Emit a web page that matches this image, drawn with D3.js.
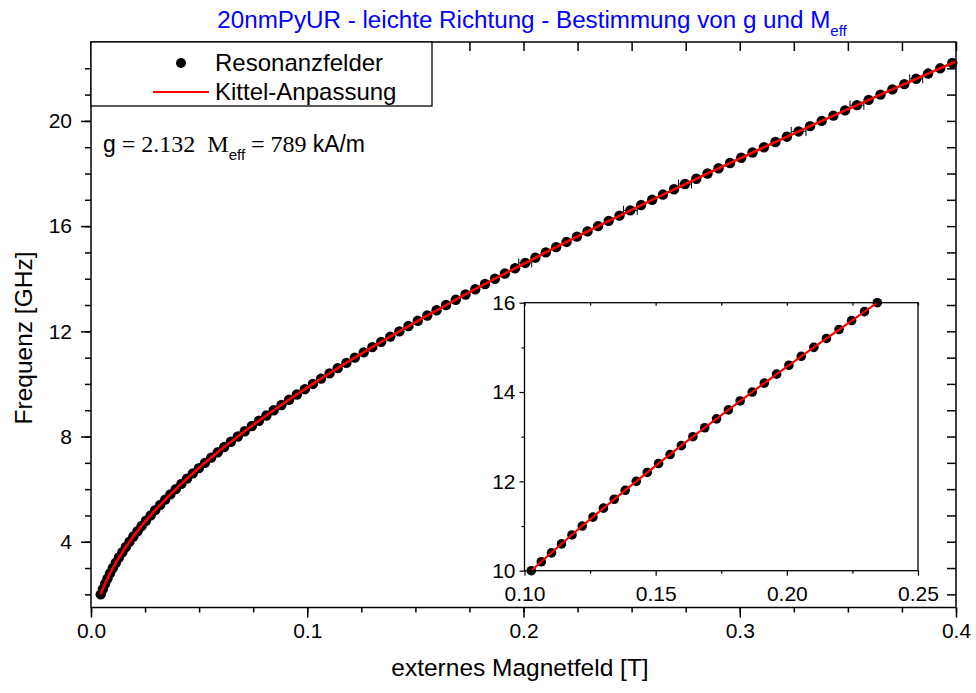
<!DOCTYPE html>
<html>
<head>
<meta charset="utf-8">
<script src="https://d3js.org/d3.v7.min.js"></script>
<style>
    body{ margin:0; background:#fff; }
    svg{ display:block; }
    text{ font-family:"Liberation Sans", Arial, sans-serif; fill:#000; }
    .serif{ font-family:"Liberation Serif", "Times New Roman", serif; }
    .axis path, .axis line{ stroke:#000; }
</style>
</head>
<body>
<div id="chart"></div>
<script>
// resonance fields (T) for each microwave frequency (GHz)
var freqGHz = [2.0,2.2,2.4,2.6,2.8,3.0,3.2,3.4,3.6,3.8,4.0,4.2,4.4,4.6,4.8,5.0,5.2,5.4,5.6,5.8,
    6.0,6.2,6.4,6.6,6.8,7.0,7.2,7.4,7.6,7.8,8.0,8.2,8.4,8.6,8.8,9.0,9.2,9.4,9.6,9.8,
    10.0,10.2,10.4,10.6,10.8,11.0,11.2,11.4,11.6,11.8,12.0,12.2,12.4,12.6,12.8,13.0,13.2,13.4,13.6,13.8,
    14.0,14.2,14.4,14.6,14.8,15.0,15.2,15.4,15.6,15.8,16.0,16.2,16.4,16.6,16.8,17.0,17.2,17.4,17.6,17.8,
    18.0,18.2,18.4,18.6,18.8,19.0,19.2,19.4,19.6,19.8,20.0,20.2,20.4,20.6,20.8,21.0,21.2,21.4,21.6,21.8,
    22.0,22.2];
var fieldT = [0.0045,0.0055,0.0065,0.0076,0.0088,0.0101,0.0115,0.0129,0.0145,0.0161,
    0.0178,0.0196,0.0215,0.0234,0.0254,0.0276,0.0297,0.0320,0.0343,0.0367,
    0.0392,0.0418,0.0444,0.0471,0.0499,0.0527,0.0556,0.0586,0.0616,0.0647,
    0.0679,0.0711,0.0744,0.0777,0.0811,0.0845,0.0881,0.0916,0.0952,0.0989,
    0.1026,0.1064,0.1103,0.1141,0.1181,0.1220,0.1261,0.1301,0.1342,0.1384,
    0.1426,0.1468,0.1511,0.1555,0.1598,0.1642,0.1687,0.1732,0.1777,0.1822,
    0.1868,0.1914,0.1961,0.2008,0.2055,0.2103,0.2151,0.2199,0.2247,0.2296,
    0.2345,0.2394,0.2444,0.2494,0.2544,0.2595,0.2645,0.2696,0.2747,0.2799,
    0.2851,0.2902,0.2955,0.3007,0.3059,0.3112,0.3165,0.3218,0.3272,0.3325,
    0.3379,0.3433,0.3487,0.3542,0.3596,0.3651,0.3706,0.3761,0.3816,0.3871,
    0.3927,0.3983];

// the few points whose field error bars stick out of the marker
var errFreq = [14.6, 16.6, 17.6, 19.6, 20.6, 21.6];
var errField = [0.0030, 0.0032, 0.0030, 0.0034, 0.0032, 0.0030];

// Kittel fit curve
var fitField = [0.0045,0.0065,0.0088,0.0101,0.0145,0.0178,0.0254,0.0343,0.0392,0.0527,0.0679,0.0845,
    0.1026,0.1220,0.1426,0.1642,0.1868,0.2103,0.2345,0.2595,0.2851,0.3112,0.3379,0.3651,0.3927,0.4000];
var fitFreq = [2.0,2.4,2.8,3.0,3.6,4.0,4.8,5.6,6.0,7.0,8.0,9.0,
    10.0,11.0,12.0,13.0,14.0,15.0,16.0,17.0,18.0,19.0,20.0,21.0,22.0,22.26];

var xTicks = [0.0,0.1,0.2,0.3,0.4];
var yTicks = [4,8,12,16,20];
var insetXTicks = [0.10,0.15,0.20,0.25];
var insetYTicks = [10,12,14,16];

var W = 976, H = 693;
var svg = d3.select("#chart").append("svg").attr("width", W).attr("height", H);

var points = freqGHz.map(function(f, i){ return {x: fieldT[i], y: f}; });
var fit = fitFreq.map(function(f, i){ return {x: fitField[i], y: f}; });
var errs = errFreq.map(function(f, i){
    return {x: fieldT[freqGHz.indexOf(f)], y: f, e: errField[i]};
});

// ---- main plot
var mLeft = 91, mRight = 956, mTop = 42, mBottom = 607.5;
var x = d3.scaleLinear().domain([0, 0.4]).range([mLeft, mRight]);
var y = d3.scaleLinear().domain([1.5, 23]).range([mBottom, mTop]);

var xMinor = d3.range(0, 0.4001, 0.025);
var yMinor = d3.range(2, 23, 1);

svg.append("g").attr("class", "axis").attr("transform", "translate(0," + mBottom + ")")
    .call(d3.axisBottom(x).tickValues(xMinor).tickSize(5).tickFormat(""))
    .call(function(g){ g.select(".domain").remove(); });
svg.append("g").attr("class", "axis").attr("transform", "translate(0," + mBottom + ")")
    .call(d3.axisBottom(x).tickValues(xTicks).tickSize(10).tickPadding(6).tickFormat(d3.format(".1f")))
    .call(function(g){ g.select(".domain").remove(); g.selectAll("text").style("font-size", "21px"); });
svg.append("g").attr("class", "axis").attr("transform", "translate(0," + mTop + ")")
    .call(d3.axisTop(x).tickValues(xMinor).tickSize(-9).tickFormat(""))
    .call(function(g){ g.select(".domain").remove(); });

svg.append("g").attr("class", "axis").attr("transform", "translate(" + mLeft + ",0)")
    .call(d3.axisLeft(y).tickValues(yMinor).tickSize(6).tickFormat(""))
    .call(function(g){ g.select(".domain").remove(); });
svg.append("g").attr("class", "axis").attr("transform", "translate(" + mLeft + ",0)")
    .call(d3.axisLeft(y).tickValues(yTicks).tickSize(10).tickPadding(9))
    .call(function(g){ g.select(".domain").remove(); g.selectAll("text").style("font-size", "21px"); });
svg.append("g").attr("class", "axis").attr("transform", "translate(" + mRight + ",0)")
    .call(d3.axisRight(y).tickValues(yMinor).tickSize(-9).tickFormat(""))
    .call(function(g){ g.select(".domain").remove(); });

svg.selectAll(".axis line").attr("stroke-width", 1.5);

// error bars, points, fit line
var eb = svg.append("g").attr("stroke", "#000").attr("stroke-width", 1);
eb.selectAll(".bar").data(errs).enter().append("line")
    .attr("x1", function(d){ return x(d.x - d.e); })
    .attr("x2", function(d){ return x(d.x + d.e); })
    .attr("y1", function(d){ return y(d.y); })
    .attr("y2", function(d){ return y(d.y); });
eb.selectAll(".capL").data(errs).enter().append("line")
    .attr("x1", function(d){ return x(d.x - d.e); })
    .attr("x2", function(d){ return x(d.x - d.e); })
    .attr("y1", function(d){ return y(d.y) - 4.5; })
    .attr("y2", function(d){ return y(d.y) + 4.5; });
eb.selectAll(".capR").data(errs).enter().append("line")
    .attr("x1", function(d){ return x(d.x + d.e); })
    .attr("x2", function(d){ return x(d.x + d.e); })
    .attr("y1", function(d){ return y(d.y) - 4.5; })
    .attr("y2", function(d){ return y(d.y) + 4.5; });

var line = d3.line().x(function(d){ return x(d.x); }).y(function(d){ return y(d.y); }).curve(d3.curveMonotoneX);

svg.append("g").selectAll("circle").data(points).enter().append("circle")
    .attr("cx", function(d){ return x(d.x); })
    .attr("cy", function(d){ return y(d.y); })
    .attr("r", 5.2)
    .attr("fill", "#000");

svg.append("path").datum(fit)
    .attr("d", line)
    .attr("fill", "none")
    .attr("stroke", "#ff0000")
    .attr("stroke-width", 2.6);

svg.append("rect").attr("x", mLeft).attr("y", mTop).attr("width", mRight - mLeft).attr("height", mBottom - mTop)
    .attr("fill", "none").attr("stroke", "#000").attr("stroke-width", 1.5);

// ---- legend
var lg = svg.append("g");
lg.append("rect").attr("x", mLeft).attr("y", mTop).attr("width", 341).attr("height", 64)
    .attr("fill", "#fff").attr("stroke", "#000").attr("stroke-width", 1.3);
lg.append("circle").attr("cx", 181).attr("cy", 63).attr("r", 5).attr("fill", "#000");
lg.append("line").attr("x1", 153).attr("x2", 209).attr("y1", 92).attr("y2", 92)
    .attr("stroke", "#ff0000").attr("stroke-width", 2);
lg.append("text").attr("x", 215).attr("y", 71).style("font-size", "24px").text("Resonanzfelder");
lg.append("text").attr("x", 215).attr("y", 100).style("font-size", "24px").text("Kittel-Anpassung");

// ---- parameter text
var pt = svg.append("text").attr("x", 103).attr("y", 152).style("font-size", "23px").attr("xml:space", "preserve");
pt.append("tspan").text("g");
pt.append("tspan").attr("class", "serif").style("font-size", "24px").text(" = 2.132  M");
pt.append("tspan").style("font-size", "15px").attr("dy", 8).text("eff");
pt.append("tspan").attr("class", "serif").style("font-size", "24px").attr("dy", -8).text(" = 789 ");
pt.append("tspan").text("kA/m");

// ---- titles
var tt = svg.append("text").attr("x", 532).attr("y", 28).attr("text-anchor", "middle")
    .style("font-size", "24.2px").style("fill", "#0000ff");
tt.append("tspan").style("fill", "#0000ff").text("20nmPyUR - leichte Richtung - Bestimmung von g und M");
tt.append("tspan").style("fill", "#0000ff").style("font-size", "15px").attr("dy", 8).text("eff");

svg.append("text").attr("x", 520).attr("y", 676).attr("text-anchor", "middle")
    .style("font-size", "24.5px").text("externes Magnetfeld [T]");
svg.append("text").attr("transform", "translate(32,338) rotate(-90)")
    .attr("text-anchor", "middle").style("font-size", "24.5px").text("Frequenz [GHz]");

// ---- inset
var il = 524.5, ir = 918, itop = 302.7, ib = 570.7;
var ix = d3.scaleLinear().domain([0.10, 0.25]).range([il, ir]);
var iy = d3.scaleLinear().domain([10, 16]).range([ib, itop]);

svg.append("rect").attr("x", il).attr("y", itop).attr("width", ir - il).attr("height", ib - itop)
    .attr("fill", "#fff");

svg.append("clipPath").attr("id", "insetClip").append("rect")
    .attr("x", il).attr("y", itop).attr("width", ir - il).attr("height", ib - itop);

var ixMinor = [0.125, 0.175, 0.225];
var iyMinor = [11, 13, 15];

svg.append("g").attr("class", "axis inset").attr("transform", "translate(0," + ib + ")")
    .call(d3.axisBottom(ix).tickValues(insetXTicks).tickSize(5).tickPadding(10).tickFormat(d3.format(".2f")))
    .call(function(g){ g.select(".domain").remove(); g.selectAll("text").style("font-size", "21px"); });
svg.append("g").attr("class", "axis inset").attr("transform", "translate(0," + ib + ")")
    .call(d3.axisBottom(ix).tickValues(ixMinor).tickSize(3).tickFormat(""))
    .call(function(g){ g.select(".domain").remove(); });
svg.append("g").attr("class", "axis inset").attr("transform", "translate(0," + itop + ")")
    .call(d3.axisTop(ix).tickValues(ixMinor.concat(insetXTicks)).tickSize(-3).tickFormat(""))
    .call(function(g){ g.select(".domain").remove(); });
svg.append("g").attr("class", "axis inset").attr("transform", "translate(" + il + ",0)")
    .call(d3.axisLeft(iy).tickValues(insetYTicks).tickSize(5).tickPadding(4).tickFormat(d3.format("d")))
    .call(function(g){ g.select(".domain").remove(); g.selectAll("text").style("font-size", "21px"); });
svg.append("g").attr("class", "axis inset").attr("transform", "translate(" + il + ",0)")
    .call(d3.axisLeft(iy).tickValues(iyMinor).tickSize(3).tickFormat(""))
    .call(function(g){ g.select(".domain").remove(); });

var iline = d3.line().x(function(d){ return ix(d.x); }).y(function(d){ return iy(d.y); }).curve(d3.curveMonotoneX);

svg.append("g").selectAll("circle")
    .data(points.filter(function(d){ return d.y >= 10 && d.y <= 16; }))
    .enter().append("circle")
    .attr("cx", function(d){ return ix(d.x); })
    .attr("cy", function(d){ return iy(d.y); })
    .attr("r", 4.8)
    .attr("fill", "#000");

svg.append("path").datum(fit)
    .attr("clip-path", "url(#insetClip)")
    .attr("d", iline)
    .attr("fill", "none")
    .attr("stroke", "#ff0000")
    .attr("stroke-width", 2.2);

svg.append("rect").attr("x", il).attr("y", itop).attr("width", ir - il).attr("height", ib - itop)
    .attr("fill", "none").attr("stroke", "#000").attr("stroke-width", 1.3);
svg.selectAll(".inset line").attr("stroke-width", 1.2);
</script>
</body>
</html>
